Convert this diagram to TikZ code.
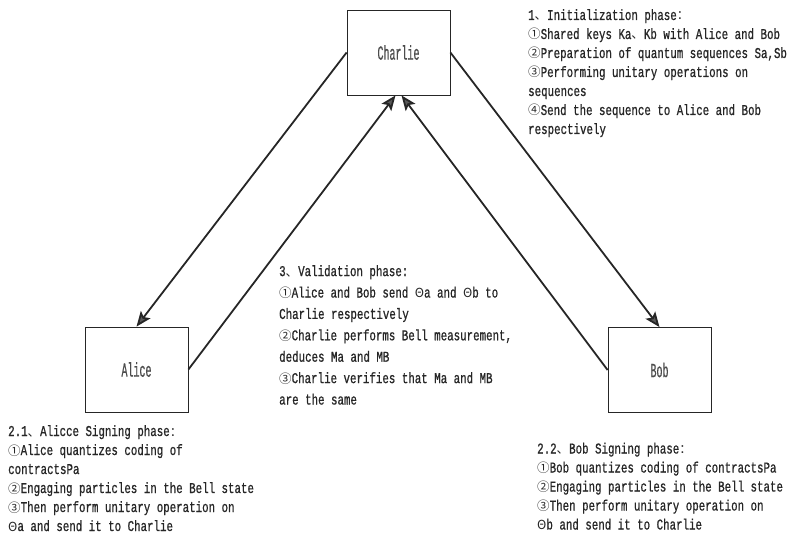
\documentclass[tikz,border=0pt]{standalone}
\usepackage{fontspec}
\setmainfont[FakeStretch=0.72,FakeBold=0.8]{Liberation Mono}
\newfontfamily\cjkf{Noto Sans CJK SC}
\newfontfamily\labf[FakeStretch=0.5,FakeBold=0.6]{Liberation Mono}
\newcommand\cj[1]{{\cjkf\fontsize{12.5}{12.5}\selectfont #1}}
\usetikzlibrary{arrows.meta}
\tikzset{
  box/.style={draw=black!85, line width=0.8pt, minimum width=103pt, minimum height=85pt, inner sep=0pt,
    font=\labf\fontsize{20}{20}\selectfont, text=black!70},
  note/.style={anchor=base west, align=left, inner sep=0pt, font=\fontsize{15}{19}\selectfont, text=black!85},
  wide/.style={note, font=\fontsize{15}{21.4}\selectfont},
  flow/.style={draw=black!85, line width=1.8pt, -{Stealth[length=15pt,width=12pt,inset=3pt,fill=black!65]}}
}
\begin{document}
\begin{tikzpicture}[x=1pt,y=-1pt]
\useasboundingbox (0,0) rectangle (790,548);
\node[box] (C) at (398.5,52.5) {Charlie};
\node[box] (A) at (136.5,369.5) {Alice};
\node[box] (B) at (659.5,370) {Bob};

\draw[flow] (C.west) -- (A.north);
\draw[flow] (C.east) -- (B.north);
\draw[flow] (A.east) -- ([xshift=-3pt]C.south);
\draw[flow] (B.west) -- ([xshift=3pt]C.south);

% anchor base west = baseline of the last line
\node[note] (init) at (528,134) {1\cj{、}Initialization phase\cj{：}\\
\cj{①}Shared keys Ka\cj{、}Kb with Alice and Bob\\
\cj{②}Preparation of quantum sequences Sa,Sb\\
\cj{③}Performing unitary operations on\\
sequences\\
\cj{④}Send the sequence to Alice and Bob\\
respectively};

\node[wide] (valid) at (279,404.5) {3\cj{、}Validation phase:\\
\cj{①}Alice and Bob send \cj{Θ}a and \cj{Θ}b to\\
Charlie respectively\\
\cj{②}Charlie performs Bell measurement,\\
deduces Ma and MB\\
\cj{③}Charlie verifies that Ma and MB\\
are the same};

\node[note] (alicetext) at (8,531) {2.1\cj{、}Alicce Signing phase\cj{：}\\
\cj{①}Alice quantizes coding of\\
contractsPa\\
\cj{②}Engaging particles in the Bell state\\
\cj{③}Then perform unitary operation on\\
\cj{Θ}a and send it to Charlie};

\node[note] (bobtext) at (537,529.5) {2.2\cj{、}Bob Signing phase\cj{：}\\
\cj{①}Bob quantizes coding of contractsPa\\
\cj{②}Engaging particles in the Bell state\\
\cj{③}Then perform unitary operation on\\
\cj{Θ}b and send it to Charlie};
\end{tikzpicture}
\end{document}
